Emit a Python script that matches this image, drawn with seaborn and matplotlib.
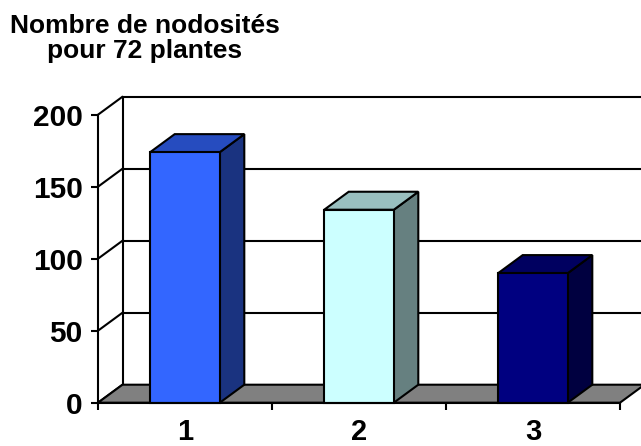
import matplotlib
matplotlib.use("Agg")
import matplotlib.pyplot as plt
from matplotlib.patches import Polygon
import seaborn as sns
import pandas as pd

# Data
categories = ["1", "2", "3"]
values = [174, 134, 90]
front_colors = ["#3366FF", "#CCFFFF", "#000080"]
top_colors = ["#264CBF", "#99BFBF", "#000060"]
side_colors = ["#1A3380", "#668080", "#000040"]
y_ticks = [0, 50, 100, 150, 200]
title_lines = ["Nombre de nodosités", "pour 72 plantes"]

sns.set_theme(style="white")
plt.rcParams["font.family"] = ["Liberation Sans", "DejaVu Sans"]
plt.rcParams["font.weight"] = "bold"
plt.rcParams["text.color"] = "black"
plt.rcParams["xtick.color"] = "black"
plt.rcParams["ytick.color"] = "black"

W, H = 641, 446
fig = plt.figure(figsize=(W / 100, H / 100), dpi=100)
ax = fig.add_axes([98 / W, 43.3 / H, 522 / W, 288 / H])

df = pd.DataFrame({"cat": categories, "val": values})

ax.set_xlim(-0.5, 2.5)
ax.set_ylim(0, 200)

# depth offset of the 3-D box, in data units
dx = 24.5 / 522 * 3
dy = 18 / 288 * 200
lw = 1.5

# back wall: gridlines, left edge and depth connectors
for yv in y_ticks[1:]:
    ax.plot([-0.5 + dx, 2.5 + dx + 0.2], [yv + dy, yv + dy], color="black",
            lw=lw, clip_on=False, zorder=1, solid_capstyle="projecting")
for yv in y_ticks:
    ax.plot([-0.5, -0.5 + dx], [yv, yv + dy], color="black", lw=lw,
            clip_on=False, zorder=1)
ax.plot([-0.5 + dx, -0.5 + dx], [0 + dy, 200 + dy], color="black", lw=lw,
        clip_on=False, zorder=1)

# floor
floor = Polygon([(-0.5, 0), (2.5, 0), (2.5 + dx, dy), (-0.5 + dx, dy)],
                closed=True, facecolor="#808080", edgecolor="black", lw=lw,
                clip_on=False, zorder=2)
ax.add_patch(floor)

# front faces of the bars
sns.barplot(data=df, x="cat", y="val", hue="cat", palette=front_colors,
            saturation=1, width=0.4, edgecolor="black", linewidth=lw,
            legend=False, ax=ax, zorder=4)
bars = [p for p in ax.patches if p is not floor]
for p in bars:
    p.set_clip_on(False)

# side and top faces of the bars
for i, p in enumerate(bars):
    x0 = p.get_x()
    x1 = x0 + p.get_width()
    h = p.get_height()
    side = Polygon([(x1, 0), (x1 + dx, dy), (x1 + dx, h + dy), (x1, h)],
                   closed=True, facecolor=side_colors[i], edgecolor="black",
                   lw=lw, clip_on=False, zorder=3)
    top = Polygon([(x0, h), (x1, h), (x1 + dx, h + dy), (x0 + dx, h + dy)],
                  closed=True, facecolor=top_colors[i], edgecolor="black",
                  lw=lw, clip_on=False, zorder=3)
    ax.add_patch(side)
    ax.add_patch(top)

ax.set_xlim(-0.5, 2.5)
ax.set_ylim(0, 200)

# axes and ticks
for s in ["top", "right"]:
    ax.spines[s].set_visible(False)
for s in ["left", "bottom"]:
    ax.spines[s].set_color("black")
    ax.spines[s].set_linewidth(lw)
    ax.spines[s].set_zorder(5)

ax.set_yticks(y_ticks)
ax.set_yticklabels([str(v) for v in y_ticks], fontsize=21.5,
                   fontweight="bold", color="black")
ax.tick_params(axis="y", direction="out", length=5, width=lw, color="black",
               pad=6, left=True)

ax.set_xticks([-0.5, 0.5, 1.5, 2.5])
ax.set_xticklabels([])
ax.set_xticks(range(len(categories)), minor=True)
ax.set_xticklabels(categories, minor=True, fontsize=21, fontweight="bold",
                   color="black")
ax.tick_params(axis="x", which="major", direction="out", length=5, width=lw,
               color="black", bottom=True)
ax.tick_params(axis="x", which="minor", length=0, pad=11)
ax.set_xlabel("")
ax.set_ylabel("")
ax.grid(False)

# title
fig.text(145 / W, 1 - 33.3 / H, title_lines[0], ha="center", va="baseline",
         fontsize=19, fontweight="bold", color="black")
fig.text(145 / W, 1 - 58 / H, title_lines[1], ha="center", va="baseline",
         fontsize=19, fontweight="bold", color="black")

fig.savefig("out.png", dpi=100)
